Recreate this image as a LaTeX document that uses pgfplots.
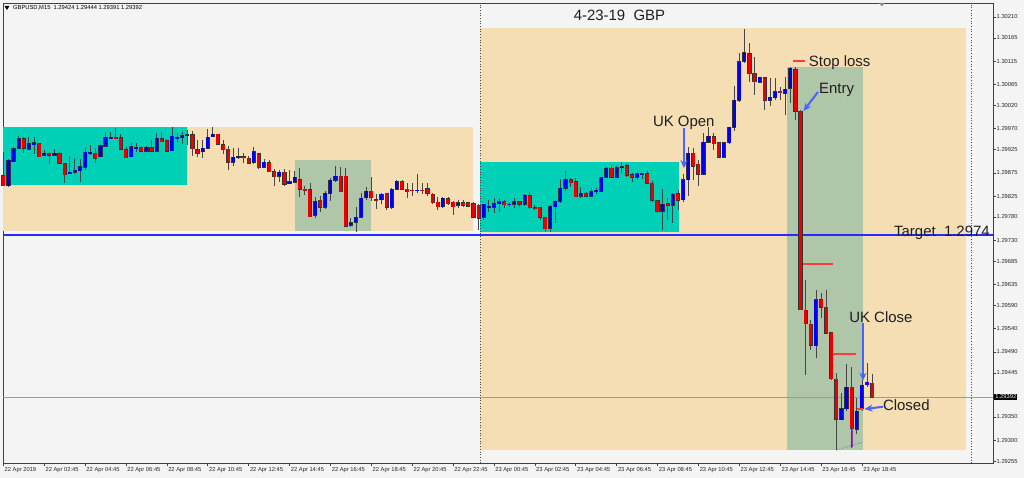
\documentclass[border=0pt]{standalone}
\usepackage{pgfplots}
\pgfplotsset{compat=1.18}
\usepackage{pgfplotstable}
\usepackage{fontspec}
\setmainfont{Liberation Sans}
\usetikzlibrary{arrows.meta}

\definecolor{bgc}{RGB}{244,244,244}
\definecolor{wheatc}{RGB}{245,222,179}
\definecolor{turq}{RGB}{0,208,182}
\definecolor{sage}{RGB}{175,198,168}
\definecolor{bull}{RGB}{0,0,235}
\definecolor{bear}{RGB}{235,0,0}
\definecolor{wick}{RGB}{70,70,70}
\definecolor{arrowblue}{RGB}{70,100,255}
\definecolor{tgtblue}{RGB}{40,40,255}
\definecolor{slred}{RGB}{255,60,60}
\definecolor{txt}{RGB}{30,30,30}
\definecolor{curline}{RGB}{150,156,166}

\pgfplotstableread{
i o h l c
0 1.29870 1.29920 1.29848 1.29848
1 1.29848 1.29905 1.29846 1.29903
2 1.29900 1.29931 1.29900 1.29928
3 1.29928 1.29954 1.29928 1.29948
4 1.29948 1.29952 1.29918 1.29928
5 1.29926 1.29952 1.29926 1.29939
6 1.29937 1.29952 1.29916 1.29941
7 1.29939 1.29939 1.29909 1.29911
8 1.29913 1.29924 1.29913 1.29918
9 1.29918 1.29920 1.29896 1.29913
10 1.29913 1.29926 1.29911 1.29918
11 1.29918 1.29920 1.29896 1.29896
12 1.29896 1.29896 1.29853 1.29872
13 1.29874 1.29911 1.29874 1.29877
14 1.29877 1.29907 1.29874 1.29881
15 1.29881 1.29905 1.29855 1.29890
16 1.29887 1.29931 1.29881 1.29920
17 1.29918 1.29935 1.29913 1.29920
18 1.29918 1.29928 1.29896 1.29907
19 1.29909 1.29933 1.29909 1.29933
20 1.29933 1.29963 1.29931 1.29952
21 1.29950 1.29963 1.29950 1.29952
22 1.29952 1.29971 1.29948 1.29950
23 1.29950 1.29961 1.29926 1.29926
24 1.29926 1.29931 1.29907 1.29909
25 1.29909 1.29939 1.29909 1.29931
26 1.29928 1.29939 1.29920 1.29931
27 1.29931 1.29933 1.29922 1.29922
28 1.29922 1.29933 1.29922 1.29931
29 1.29931 1.29946 1.29920 1.29922
30 1.29922 1.29961 1.29920 1.29950
31 1.29950 1.29963 1.29943 1.29943
32 1.29946 1.29948 1.29922 1.29922
33 1.29922 1.29974 1.29922 1.29954
34 1.29950 1.29961 1.29939 1.29952
35 1.29952 1.29963 1.29939 1.29956
36 1.29956 1.29967 1.29935 1.29958
37 1.29958 1.29965 1.29911 1.29928
38 1.29926 1.29946 1.29909 1.29918
39 1.29920 1.29948 1.29909 1.29928
40 1.29928 1.29971 1.29928 1.29952
41 1.29952 1.29974 1.29952 1.29958
42 1.29958 1.29958 1.29937 1.29937
43 1.29937 1.29946 1.29916 1.29926
44 1.29926 1.29933 1.29881 1.29898
45 1.29898 1.29928 1.29890 1.29909
46 1.29909 1.29928 1.29905 1.29911
47 1.29911 1.29918 1.29898 1.29909
48 1.29907 1.29911 1.29896 1.29896
49 1.29898 1.29933 1.29896 1.29920
50 1.29918 1.29920 1.29885 1.29887
51 1.29887 1.29905 1.29885 1.29898
52 1.29898 1.29903 1.29877 1.29879
53 1.29879 1.29883 1.29846 1.29868
54 1.29868 1.29881 1.29855 1.29877
55 1.29877 1.29883 1.29848 1.29851
56 1.29853 1.29881 1.29853 1.29857
57 1.29855 1.29879 1.29855 1.29866
58 1.29861 1.29887 1.29823 1.29840
59 1.29840 1.29848 1.29827 1.29838
60 1.29840 1.29853 1.29780 1.29782
61 1.29784 1.29823 1.29778 1.29814
62 1.29816 1.29827 1.29791 1.29801
63 1.29801 1.29838 1.29799 1.29831
64 1.29831 1.29864 1.29816 1.29859
65 1.29859 1.29890 1.29855 1.29868
66 1.29868 1.29887 1.29833 1.29835
67 1.29868 1.29887 1.29759 1.29761
68 1.29763 1.29780 1.29759 1.29769
69 1.29769 1.29801 1.29748 1.29780
70 1.29780 1.29833 1.29778 1.29821
71 1.29821 1.29844 1.29816 1.29835
72 1.29835 1.29866 1.29816 1.29821
73 1.29818 1.29831 1.29799 1.29816
74 1.29818 1.29833 1.29810 1.29829
75 1.29831 1.29833 1.29795 1.29801
76 1.29801 1.29842 1.29797 1.29840
77 1.29840 1.29859 1.29838 1.29857
78 1.29857 1.29859 1.29838 1.29840
79 1.29840 1.29855 1.29821 1.29835
80 1.29838 1.29855 1.29827 1.29836
81 1.29836 1.29874 1.29833 1.29838
82 1.29838 1.29855 1.29831 1.29836
83 1.29840 1.29855 1.29827 1.29831
84 1.29831 1.29833 1.29810 1.29812
85 1.29812 1.29823 1.29795 1.29803
86 1.29803 1.29823 1.29801 1.29821
87 1.29821 1.29823 1.29806 1.29810
88 1.29812 1.29816 1.29786 1.29803
89 1.29806 1.29816 1.29799 1.29812
90 1.29812 1.29816 1.29801 1.29806
91 1.29810 1.29812 1.29801 1.29803
92 1.29810 1.29812 1.29780 1.29780
93 1.29806 1.29810 1.29752 1.29778
94 1.29780 1.29810 1.29774 1.29808
95 1.29801 1.29816 1.29791 1.29803
96 1.29801 1.29821 1.29789 1.29810
97 1.29810 1.29821 1.29791 1.29814
98 1.29814 1.29818 1.29801 1.29806
99 1.29806 1.29812 1.29801 1.29808
100 1.29808 1.29821 1.29801 1.29814
101 1.29814 1.29816 1.29803 1.29808
102 1.29808 1.29829 1.29803 1.29827
103 1.29827 1.29835 1.29799 1.29801
104 1.29801 1.29806 1.29795 1.29799
105 1.29801 1.29803 1.29774 1.29780
106 1.29780 1.29780 1.29748 1.29756
107 1.29756 1.29806 1.29748 1.29803
108 1.29803 1.29816 1.29767 1.29814
109 1.29814 1.29861 1.29810 1.29842
110 1.29842 1.29881 1.29838 1.29861
111 1.29861 1.29864 1.29844 1.29855
112 1.29857 1.29864 1.29823 1.29825
113 1.29825 1.29844 1.29821 1.29831
114 1.29831 1.29833 1.29823 1.29825
115 1.29825 1.29842 1.29823 1.29835
116 1.29835 1.29842 1.29831 1.29837
117 1.29835 1.29866 1.29833 1.29866
118 1.29866 1.29887 1.29864 1.29885
119 1.29885 1.29890 1.29864 1.29866
120 1.29866 1.29890 1.29866 1.29887
121 1.29887 1.29898 1.29874 1.29890
122 1.29890 1.29896 1.29868 1.29870
123 1.29872 1.29874 1.29855 1.29866
124 1.29866 1.29877 1.29859 1.29874
125 1.29872 1.29877 1.29864 1.29874
126 1.29874 1.29881 1.29853 1.29853
127 1.29853 1.29857 1.29812 1.29816
128 1.29816 1.29818 1.29791 1.29793
129 1.29793 1.29840 1.29752 1.29808
130 1.29810 1.29821 1.29774 1.29806
131 1.29806 1.29833 1.29769 1.29829
132 1.29831 1.29838 1.29795 1.29816
133 1.29818 1.29874 1.29814 1.29861
134 1.29861 1.29931 1.29827 1.29918
135 1.29918 1.29928 1.29859 1.29890
136 1.29894 1.29903 1.29848 1.29872
137 1.29872 1.29961 1.29870 1.29941
138 1.29941 1.29974 1.29941 1.29954
139 1.29954 1.29961 1.29924 1.29939
140 1.29941 1.29941 1.29907 1.29909
141 1.29909 1.29941 1.29907 1.29941
142 1.29941 1.29976 1.29939 1.29974
143 1.29974 1.30064 1.29967 1.30032
144 1.30032 1.30133 1.30028 1.30115
145 1.30115 1.30186 1.30113 1.30133
146 1.30133 1.30154 1.30070 1.30090
147 1.30090 1.30124 1.30043 1.30072
148 1.30070 1.30081 1.30068 1.30081
149 1.30081 1.30081 1.30010 1.30032
150 1.30032 1.30079 1.30019 1.30038
151 1.30038 1.30081 1.30032 1.30051
152 1.30051 1.30060 1.30032 1.30049
153 1.30047 1.30081 1.30000 1.30057
154 1.30057 1.30103 1.30026 1.30100
155 1.30098 1.30103 1.29989 1.30008
156 1.30008 1.30010 1.29580 1.29582
157 1.29580 1.29645 1.29441 1.29552
158 1.29550 1.29560 1.29494 1.29505
159 1.29505 1.29624 1.29478 1.29604
160 1.29604 1.29618 1.29563 1.29587
161 1.29587 1.29623 1.29529 1.29531
162 1.29531 1.29533 1.29430 1.29432
163 1.29432 1.29445 1.29279 1.29346
164 1.29346 1.29402 1.29344 1.29369
165 1.29369 1.29466 1.29365 1.29415
166 1.29415 1.29458 1.29285 1.29326
167 1.29324 1.29393 1.29316 1.29363
168 1.29369 1.29430 1.29365 1.29419
169 1.29419 1.29466 1.29415 1.29425
170 1.29424 1.29444 1.29391 1.29392
}\candles

\newcommand{\tk}{\fontsize{5.8}{6.5}\selectfont}
\newcommand{\annfont}{\fontsize{15}{18}\selectfont}

\begin{document}
\begin{tikzpicture}
\useasboundingbox[fill=bgc] (-3bp,-15bp) rectangle (1021bp,463bp);
\begin{axis}[
  at={(0,0)}, anchor=south west,
  scale only axis, width=990bp, height=460bp,
  xmin=-0.06, xmax=193.65, ymin=1.292511, ymax=1.302401,
  axis background/.style={fill=bgc},
  axis line style={black!75, line width=0.7bp},
  clip=false,
  scaled y ticks=false,
  xtick={0,8,...,168},
  xticklabels={{22 Apr 2019},{22 Apr 02:45},{22 Apr 04:45},{22 Apr 06:45},{22 Apr 08:45},{22 Apr 10:45},{22 Apr 12:45},{22 Apr 14:45},{22 Apr 16:45},{22 Apr 18:45},{22 Apr 20:45},{22 Apr 22:45},{23 Apr 00:45},{23 Apr 02:45},{23 Apr 04:45},{23 Apr 06:45},{23 Apr 08:45},{23 Apr 10:45},{23 Apr 12:45},{23 Apr 14:45},{23 Apr 16:45},{23 Apr 18:45}},
  ytick={1.30210,1.30165,1.30115,1.30065,1.30020,1.29970,1.29925,1.29875,1.29825,1.29780,1.29730,1.29685,1.29635,1.29590,1.29540,1.29490,1.29445,1.29350,1.29300,1.29255},
  yticklabels={1.30210,1.30165,1.30115,1.30065,1.30020,1.29970,1.29925,1.29875,1.29825,1.29780,1.29730,1.29685,1.29635,1.29590,1.29540,1.29490,1.29445,1.29350,1.29300,1.29255},
  xtick pos=bottom, ytick pos=right, yticklabel pos=right,
  tick align=outside, major tick length=3bp,
  tick style={black!75, line width=0.5bp},
  xticklabel style={font=\tk, text=black!85, anchor=north west, inner sep=0pt, xshift=1.2bp, yshift=-1bp},
  yticklabel style={font=\tk, text=black!85, anchor=west, inner sep=0pt, xshift=0.5bp},
]
% zones
\fill[wheatc] (axis cs:-0.06,1.299735) rectangle (axis cs:91.90,1.297499);
\fill[turq] (axis cs:-0.06,1.299735) rectangle (axis cs:35.94,1.298488);
\fill[sage] (axis cs:57.07,1.299026) rectangle (axis cs:71.94,1.297499);
\fill[wheatc] (axis cs:93.27,1.301864) rectangle (axis cs:188.36,1.292791);
\fill[turq] (axis cs:93.27,1.298983) rectangle (axis cs:132.2,1.297477);
\fill[sage] (axis cs:153.33,1.301025) rectangle (axis cs:168.2,1.292791);
% lines
\draw[black!70, dotted, line width=0.7bp] (axis cs:93.27,1.292511) -- (axis cs:93.27,1.302401);
\draw[black!70, dotted, line width=0.7bp] (axis cs:189.35,1.292511) -- (axis cs:189.35,1.302401);
\draw[tgtblue, line width=1.5bp] (axis cs:-0.06,1.29741) -- (axis cs:193.65,1.29741);
\draw[curline, line width=0.6bp] (axis cs:-0.06,1.29393) -- (axis cs:193.65,1.29393);
% candles: wicks
\addplot[forget plot, draw=none, mark=none,
  error bars/.cd, y dir=both, y explicit, error mark=none,
  error bar style={draw=wick, line width=0.8bp, solid}]
  table[x=i, y expr={(\thisrow{h}+\thisrow{l})/2}, y error expr={(\thisrow{h}-\thisrow{l})/2}] {\candles};
% body outlines
\addplot[forget plot, draw=none, mark=none,
  error bars/.cd, y dir=both, y explicit, error mark=none,
  error bar style={draw=black!80, line width=4.2bp, solid}]
  table[x=i, y expr={(\thisrow{o}+\thisrow{c})/2}, y error expr={abs(\thisrow{c}-\thisrow{o})/2+0.00001}] {\candles};
% bullish bodies
\addplot[forget plot, draw=none, mark=none,
  restrict expr to domain={\thisrow{c}-\thisrow{o}}{0:1},
  error bars/.cd, y dir=both, y explicit, error mark=none,
  error bar style={draw=bull, line width=3bp, solid}]
  table[x=i, y expr={(\thisrow{o}+\thisrow{c})/2}, y error expr={(\thisrow{c}-\thisrow{o})/2}] {\candles};
% bearish bodies
\addplot[forget plot, draw=none, mark=none,
  restrict expr to domain={\thisrow{c}-\thisrow{o}}{-1:0},
  error bars/.cd, y dir=both, y explicit, error mark=none,
  error bar style={draw=bear, line width=3bp, solid}]
  table[x=i, y expr={(\thisrow{o}+\thisrow{c})/2}, y error expr={(\thisrow{o}-\thisrow{c})/2}] {\candles};
% trade levels
\draw[slred, line width=2bp] (axis cs:154.5,1.30115) -- (axis cs:156.9,1.30115);
\draw[slred, line width=2bp] (axis cs:156.5,1.29679) -- (axis cs:162.3,1.29679);
\draw[slred, line width=2bp] (axis cs:162.3,1.29485) -- (axis cs:166.8,1.29485);
\draw[slred, line width=2bp] (axis cs:167.0,1.29367) -- (axis cs:168.2,1.29367);
\draw[violet!80, line width=1bp] (axis cs:166.2,1.29326) -- (axis cs:166.2,1.29285);
\draw[arrowblue, dotted, line width=0.8bp] (axis cs:163.1,1.29279) -- (axis cs:168.2,1.29296);
% arrows
\tikzset{annarrow/.style={arrowblue, line width=2bp, -{Stealth[length=8bp,width=7bp]}}}
\draw[annarrow] (axis cs:159.4,1.30049) -- (axis cs:156.6,1.30008);
\draw[annarrow] (axis cs:133.18,1.29971) -- (axis cs:133.18,1.29885);
\draw[annarrow] (axis cs:168.2,1.29552) -- (axis cs:168.2,1.29428);
\draw[annarrow] (axis cs:172.1,1.29372) -- (axis cs:168.5,1.29367);
% texts
\node[anchor=base, inner sep=0pt, text=txt, font=\annfont] at (axis cs:120.56,1.302027) {4-23-19\ \ GBP};
\node[anchor=base west, inner sep=0pt, text=txt, font=\annfont] at (axis cs:157.6,1.301038) {Stop loss};
\node[anchor=base west, inner sep=0pt, text=txt, font=\annfont] at (axis cs:159.6,1.300457) {Entry};
\node[anchor=base west, inner sep=0pt, text=txt, font=\annfont] at (axis cs:127.1,1.299748) {UK Open};
\node[anchor=base east, inner sep=0pt, text=txt, font=\annfont] at (axis cs:193.05,1.297383) {Target\ \ 1.2974};
\node[anchor=base west, inner sep=0pt, text=txt, font=\annfont] at (axis cs:165.5,1.295534) {UK Close};
\node[anchor=base west, inner sep=0pt, text=txt, font=\annfont] at (axis cs:172.1,1.293642) {Closed};
% header
\fill[black] (axis cs:0.23,1.30234) -- (axis cs:1.21,1.30234) -- (axis cs:0.72,1.30225) -- cycle;
\node[anchor=west, inner sep=0pt, font=\tk, text=black] at (axis cs:1.9,1.30229) {GBPUSD,M15\ \ 1.29424 1.29444 1.29391 1.29392};
\fill[black!45] (axis cs:171.3,1.302401) -- (axis cs:172.5,1.302401) -- (axis cs:171.9,1.30233) -- cycle;
% current price label
\node[anchor=west, fill=black, text=white, font=\tk, inner xsep=1.2bp, inner ysep=0.8bp, xshift=1bp] at (axis cs:193.65,1.29393) {1.29392};
\end{axis}
\end{tikzpicture}
\end{document}
